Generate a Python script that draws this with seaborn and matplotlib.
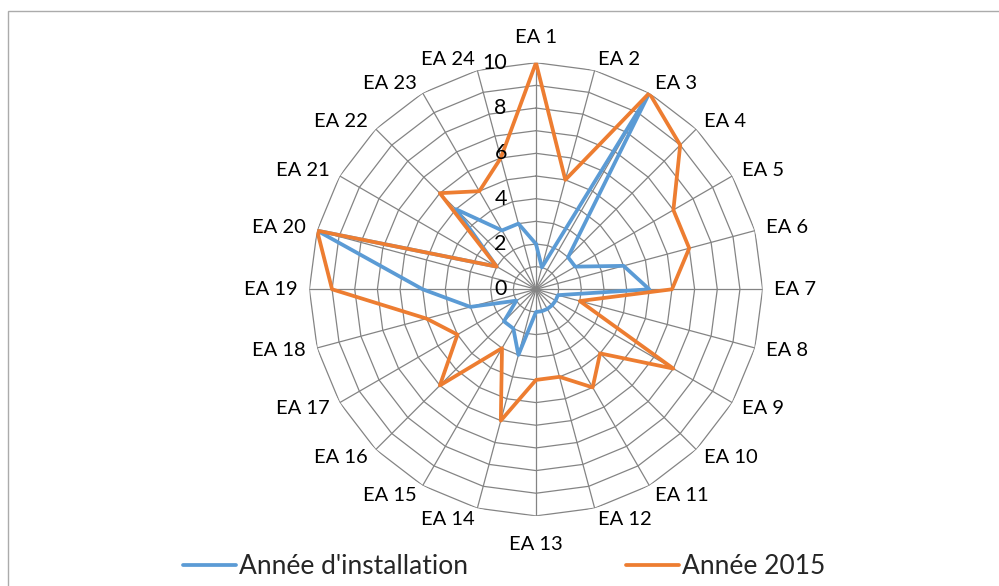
import numpy as np
import matplotlib
matplotlib.use("Agg")
import matplotlib.pyplot as plt
from matplotlib.lines import Line2D
from matplotlib.patches import Rectangle
import seaborn as sns

sns.set_theme(style="white")
plt.rcParams["font.family"] = ["Lato", "DejaVu Sans"]

# Categories and series values
categories = [f"EA {i}" for i in range(1, 25)]
annee_installation = [2, 1, 10, 2, 2, 4, 5, 1, 1, 1, 1, 1,
                      1, 3, 2, 2, 1, 3, 5, 10, 2, 5, 3, 3]
annee_2015 = [10, 5, 10, 9, 7, 7, 6, 2, 7, 4, 5, 4,
              4, 6, 3, 6, 4, 5, 9, 10, 2, 6, 5, 6]
radial_ticks = [0, 2, 4, 6, 8, 10]
series_names = ["Année d'installation", "Année 2015"]
series_colors = ["#5B9BD5", "#ED7D31"]

W, H = 999, 586
fig = plt.figure(figsize=(W / 100, H / 100), dpi=100)

# outer chart frame
fig.patches.append(Rectangle((8 / W, -0.1), 1.2, 1 - 11 / H + 0.1,
                             transform=fig.transFigure, fill=False,
                             edgecolor="#ABABAB", linewidth=1.0))

cx, cy, R = 536, 289.3, 226.6
ax = fig.add_axes([(cx - R) / W, (H - cy - R) / H, 2 * R / W, 2 * R / H],
                  projection="polar")
ax.set_theta_zero_location("N")
ax.set_theta_direction(-1)
ax.set_ylim(0, 10)
ax.grid(False)
ax.spines["polar"].set_visible(False)
ax.set_xticks([])
ax.set_yticks([])
ax.patch.set_alpha(0)

n = len(categories)
theta = np.arange(n) * 2 * np.pi / n
theta_closed = np.append(theta, 2 * np.pi)

grid_color = "#848484"
# polygonal rings
for k in range(1, 11):
    ax.plot(theta_closed, [k] * (n + 1), color=grid_color, lw=0.9, zorder=1)
# spokes
for t in theta:
    ax.plot([t, t], [0, 10], color=grid_color, lw=0.9, zorder=1)

# series
for vals, color in zip([annee_installation, annee_2015], series_colors):
    sns.lineplot(x=theta_closed, y=list(vals) + [vals[0]], ax=ax, sort=False,
                 estimator=None, color=color, lw=2.7, legend=False, zorder=3)
ax.set_xlabel("")
ax.set_ylabel("")

# category labels
for t, lab in zip(theta, categories):
    s, c = np.sin(t), np.cos(t)
    if abs(s) < 0.05:
        ha = "center"
        va = "bottom" if c > 0 else "top"
        r = 10.75 if c > 0 else 10.9
    else:
        ha = "left" if s > 0 else "right"
        va = "center"
        r = 10.5
    ax.text(t, r, lab, ha=ha, va=va, fontsize=14.5, color="#000000", zorder=4)

# radial tick labels
for k in radial_ticks:
    ax.annotate(str(k), xy=(0, k), xytext=(-21, 0), textcoords="offset points",
                ha="right", va="center", fontsize=15.5, color="#000000", zorder=4)

handles = [Line2D([0], [0], color=c, lw=2.7) for c in series_colors]
fig.legend(handles, series_names, loc="center left",
           bbox_to_anchor=(183 / W, 1 - 567 / H), ncol=2, frameon=False,
           fontsize=19, handlelength=2.0, handletextpad=0.12,
           columnspacing=6.0, borderpad=0, borderaxespad=0)

fig.savefig("out.png", dpi=100)
